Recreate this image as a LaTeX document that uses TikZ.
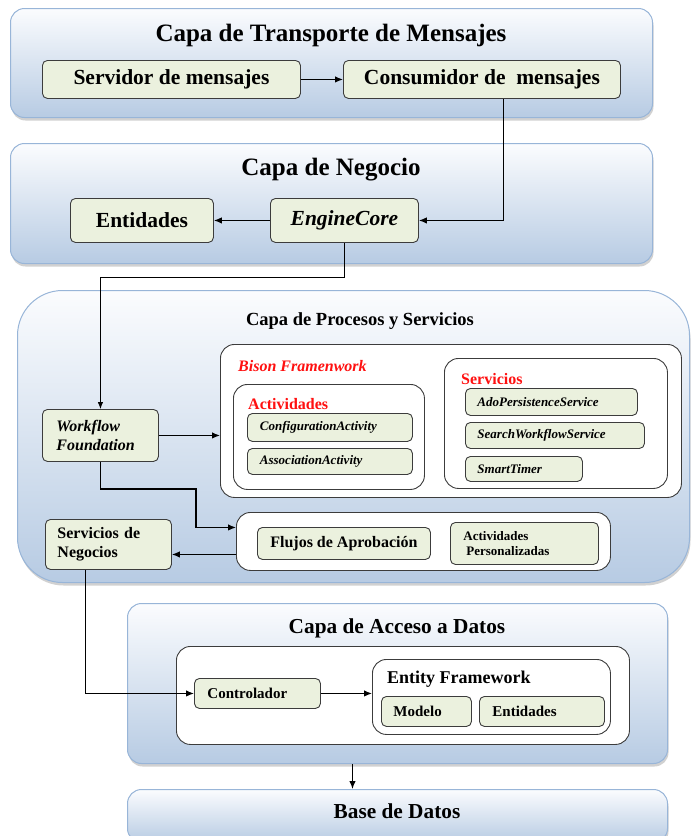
\documentclass[tikz,border=0pt]{standalone}
\usepackage{fontspec}
\setmainfont{Liberation Serif}
\usetikzlibrary{arrows.meta,calc,shadows}
\definecolor{nfill}{HTML}{EBF1DE}
\definecolor{ndraw}{HTML}{3C3C3C}
\definecolor{ltop}{HTML}{FBFCFE}
\definecolor{lbot}{HTML}{B7CBE3}
\definecolor{ldraw}{HTML}{98B5D8}
\definecolor{redt}{HTML}{FF1010}
\newcommand\placebox[6]{\node[#1,minimum width={#4-#2},minimum height={#5-#3},anchor=north west] (#6) at (#2,#3)}
\tikzset{
  layer/.style={draw=ldraw, line width=1pt, rounded corners=14pt, top color=ltop, bottom color=lbot,
    drop shadow={shadow xshift=1pt, shadow yshift=-3pt, opacity=0.3, fill=black!60}, inner sep=0pt},
  nbox/.style={draw=ndraw, line width=0.9pt, fill=nfill, rounded corners=5pt, inner sep=2pt, font=\bfseries},
  wbox/.style={draw=ndraw, line width=0.9pt, fill=white, rounded corners=14pt, inner sep=0pt},
  ltitle/.style={font=\bfseries\fontsize{25}{28}\selectfont, inner sep=0pt},
  clabel/.style={anchor=west, inner sep=0pt, font=\bfseries\fontsize{16}{18}\selectfont},
  arr/.style={draw=black, line width=1.2pt, -{Latex[length=8pt,width=6.5pt]}},
  thinarr/.style={draw=black, line width=0.8pt, -{Latex[length=7pt,width=5.5pt]}},
  big/.style={font=\bfseries\fontsize{21.5}{24}\selectfont},
  mid/.style={font=\bfseries\fontsize{16}{19}\selectfont},
  sm/.style={font=\bfseries\itshape\fontsize{13}{15}\selectfont},
  bot/.style={font=\bfseries\fontsize{15}{17}\selectfont}
}
\begin{document}
\begin{tikzpicture}[x=1pt,y=-1pt]
\useasboundingbox (0,0) rectangle (691,836);
% ---------- Layer 1
\placebox{layer}{10}{8}{652}{117}{l1} {};
\node[ltitle] (t1) at (331,35) {Capa de Transporte de Mensajes};
\placebox{nbox,big}{42}{60}{300}{98}{serv} {Servidor de mensajes};
\placebox{nbox,big}{343}{60}{620}{98}{cons} {Consumidor de~~mensajes};
% ---------- Layer 2
\placebox{layer}{10}{143}{652}{263}{l2} {};
\node[ltitle] (t2) at (331,170) {Capa de Negocio};
\placebox{nbox,big}{70}{198}{213}{242}{ent} {Entidades};
\placebox{nbox,big}{270}{198}{418}{242}{eng} {\itshape EngineCore};
% ---------- Layer 3
\placebox{layer,rounded corners=45pt}{17}{290}{689}{582}{l3} {};
\node[inner sep=0pt, font=\bfseries\fontsize{18.5}{21}\selectfont] (t3) at (360,321) {Capa de Procesos y Servicios};
\placebox{wbox}{220}{344}{681}{497}{bison} {};
\node[clabel, text=redt, font=\bfseries\itshape\fontsize{16}{18}\selectfont] (lbison) at (238,366) {Bison Framenwork};
\placebox{wbox}{233}{384}{424}{489}{act} {};
\node[clabel, text=redt] (lact) at (248,404) {Actividades};
\placebox{nbox,sm,text width=140,inner xsep=11,align=left}{247}{413}{412}{441}{conf} {ConfigurationActivity};
\placebox{nbox,sm,text width=140,inner xsep=11,align=left}{247}{448}{412}{474}{assoc} {AssociationActivity};
\placebox{wbox}{444}{358}{667}{488}{serb} {};
\node[clabel, text=redt] (lserv) at (461,379) {Servicios};
\placebox{nbox,sm,text width=148,inner xsep=12,align=left}{465}{388}{637}{415}{ado} {AdoPersistenceService};
\placebox{nbox,sm,text width=155,inner xsep=12,align=left}{465}{422}{644}{448}{search} {SearchWorkflowService};
\placebox{nbox,sm,text width=93,inner xsep=12,align=left}{465}{456}{582}{481}{smart} {SmartTimer};
\placebox{nbox,mid,text width=88,inner xsep=14,align=left}{42}{409}{158}{461}{wf} {\itshape Workflow\\\itshape Foundation};
\placebox{wbox}{236}{512}{610}{570}{fc} {};
\placebox{nbox,mid}{257}{527}{430}{559}{flujos} {Flujos de Aprobación};
\placebox{nbox,font=\bfseries\fontsize{13}{15}\selectfont,text width=122,inner xsep=13,align=left}{450}{522}{598}{564}{actp} {Actividades\\\hspace{3pt}Personalizadas};
\placebox{nbox,mid,text width=102,inner xsep=12,align=left}{45}{519}{171}{569}{sdn} {Servicios de\\Negocios};
% ---------- Layer 4
\placebox{layer}{127}{603}{667}{763}{l4} {};
\node[inner sep=0pt, font=\bfseries\fontsize{21.3}{24}\selectfont] (t4) at (397,628) {Capa de Acceso a Datos};
\placebox{wbox}{176}{646}{629}{744}{inner} {};
\placebox{nbox,bot,text width=100,inner xsep=13,align=left}{194}{678}{320}{708}{ctrl} {Controlador};
\placebox{wbox}{372}{659}{610}{734}{ef} {};
\node[clabel, font=\bfseries\fontsize{18}{20}\selectfont] (lef) at (387,679) {Entity Framework};
\placebox{nbox,bot,text width=66,inner xsep=12,align=left}{381}{696}{471}{726}{mod} {Modelo};
\placebox{nbox,bot,text width=99,inner xsep=13,align=left}{479}{696}{604}{726}{ent2} {Entidades};
% ---------- Layer 5
\placebox{layer}{127}{789}{667}{842}{l5} {};
\node[inner sep=0pt, font=\bfseries\fontsize{21.3}{24}\selectfont] (t5) at (397,811) {Base de Datos};
% ---------- connectors
\draw[arr] (serv.east) -- (cons.west);
\draw[arr] ([xshift=21.5pt]cons.south) |- (eng.east);
\draw[arr] (eng.west) -- (ent.east);
\draw[thinarr] (eng.south) -- ++(0,34) -| (wf.north);
\draw[arr] (wf.east) -- (wf.east -| bison.west);
\draw[arr] (wf.south) -- ++(0,27) -| ($(fc.west)+(-40,-14)$) -- ([yshift=14pt]fc.west);
\draw[arr] ([yshift=-13pt]fc.west) -- ([yshift=-13pt]fc.west -| sdn.east);
\draw[arr] ([xshift=-23pt]sdn.south) |- (ctrl.west);
\draw[arr] (ctrl.east) -- (ctrl.east -| ef.west);
\draw[arr] ([xshift=-45pt]l4.south) -- ([xshift=-45pt]l5.north);
\end{tikzpicture}
\end{document}
